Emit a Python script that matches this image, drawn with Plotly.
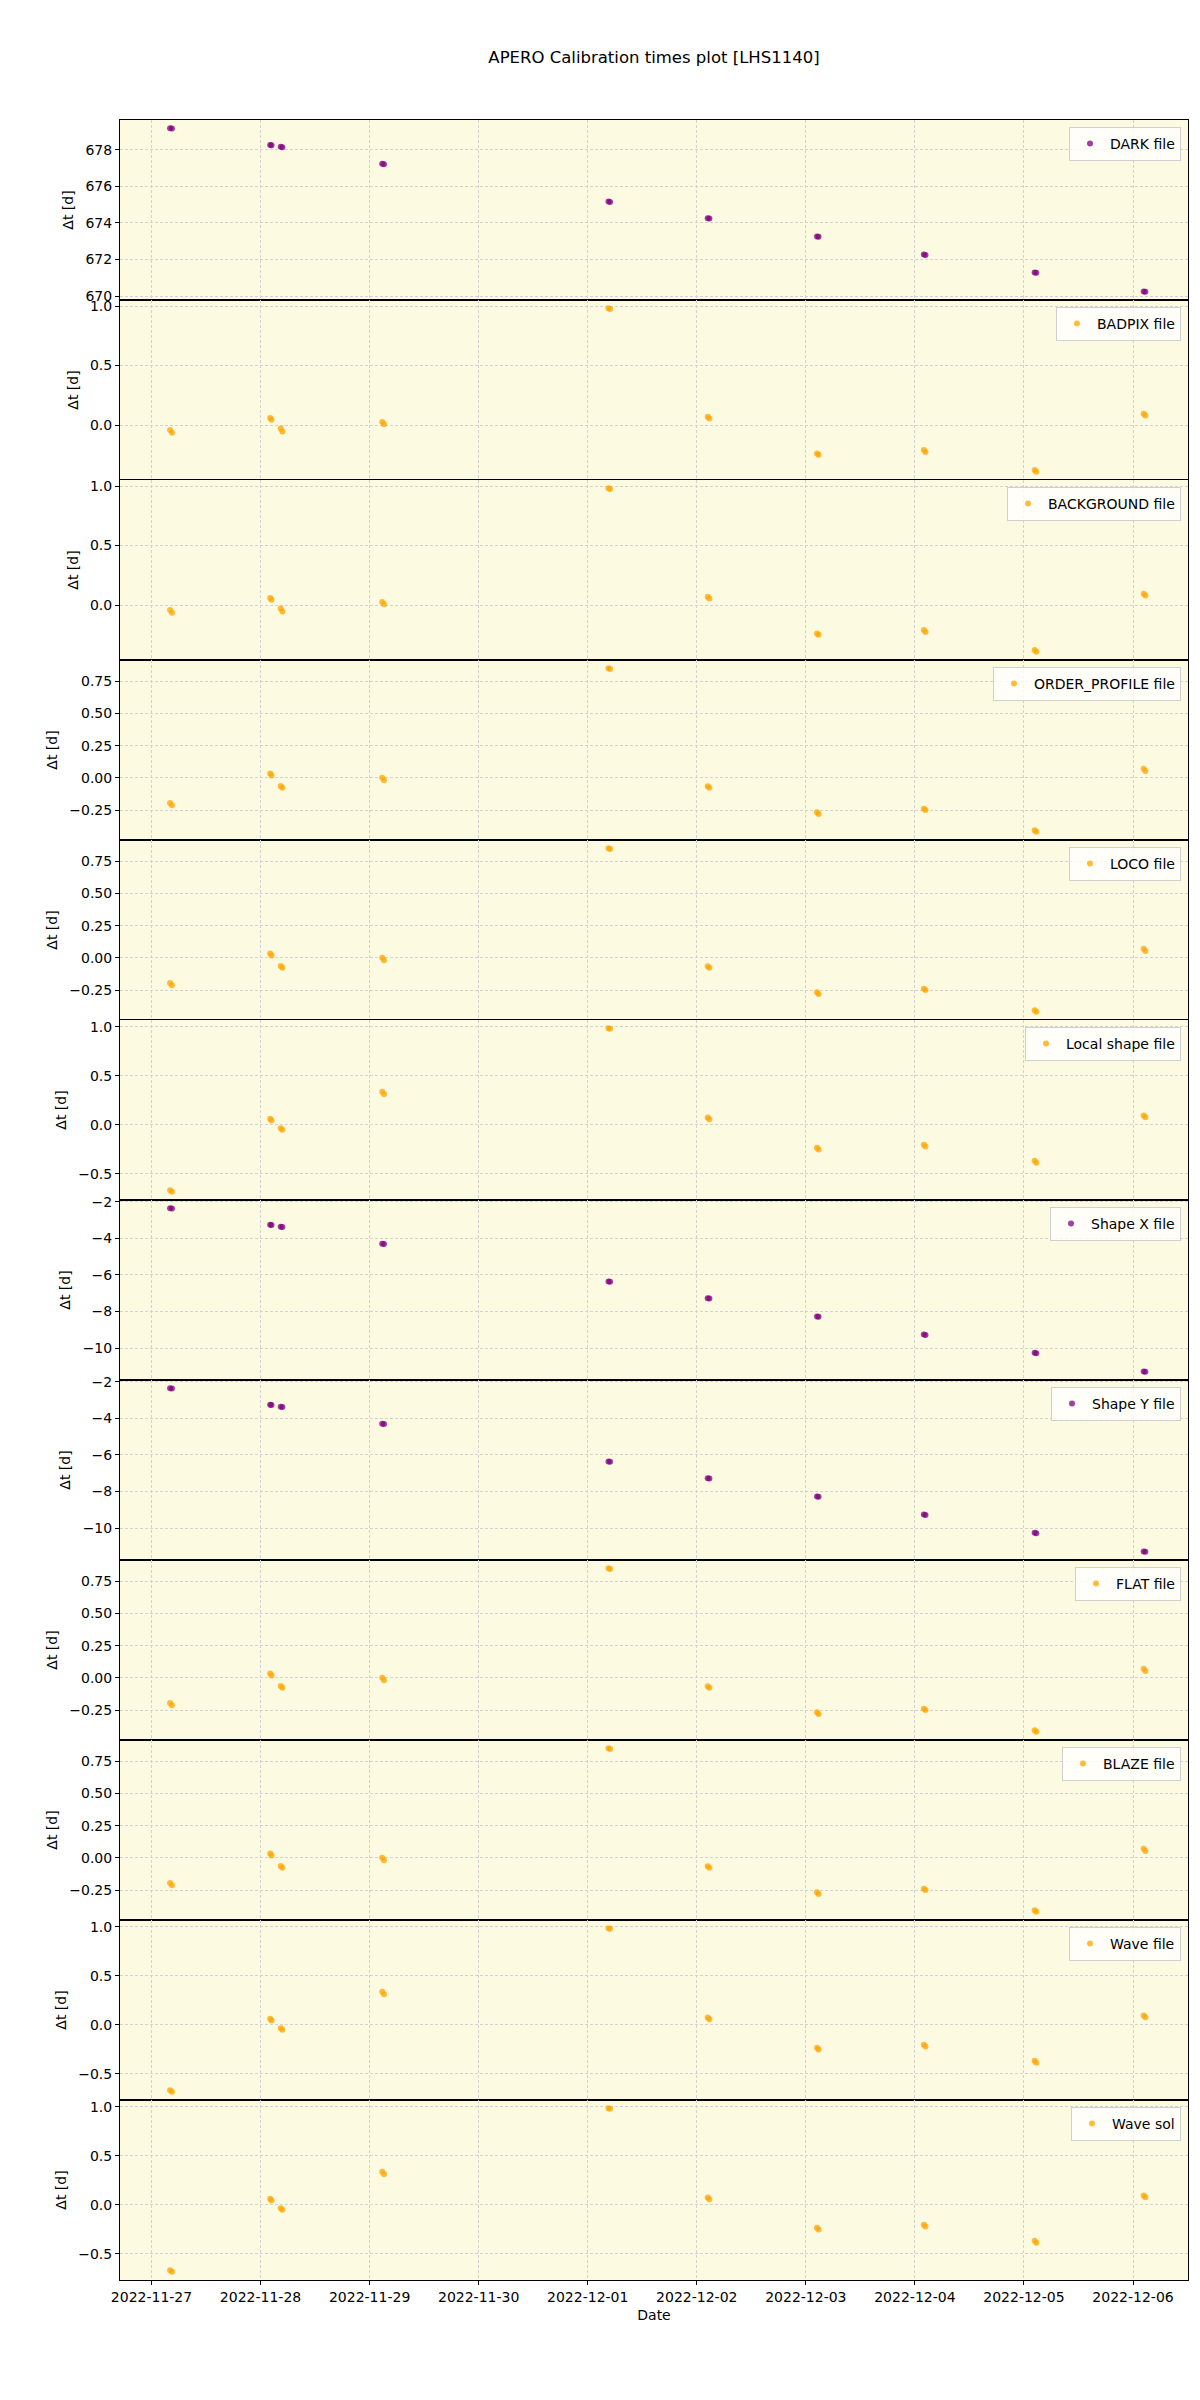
import plotly.graph_objects as go
from plotly.subplots import make_subplots

# Observation times (two exposures per night)
obs_dates = [
    "2022-11-27 04:05", "2022-11-27 04:30",
    "2022-11-28 02:07", "2022-11-28 02:24",
    "2022-11-28 04:26", "2022-11-28 04:48",
    "2022-11-29 02:46", "2022-11-29 03:10",
    "2022-12-01 04:34", "2022-12-01 04:55",
    "2022-12-02 02:24", "2022-12-02 02:46",
    "2022-12-03 02:27", "2022-12-03 02:48",
    "2022-12-04 01:58", "2022-12-04 02:20",
    "2022-12-05 02:21", "2022-12-05 02:43",
    "2022-12-06 02:21", "2022-12-06 02:43",
]

dark_dt = [679.19, 679.17, 678.27, 678.26, 678.17, 678.15, 677.24, 677.22, 675.17, 675.15,
           674.26, 674.24, 673.26, 673.24, 672.27, 672.25, 671.29, 671.27, 670.25, 670.23]
badpix_dt = [-0.042, -0.064, 0.059, 0.045, -0.030, -0.055, 0.025, 0.006, 0.982, 0.975,
             0.070, 0.055, -0.240, -0.250, -0.210, -0.227, -0.377, -0.393, 0.095, 0.080]
background_dt = list(badpix_dt)
order_profile_dt = [-0.194, -0.212, 0.033, 0.018, -0.062, -0.077, 0.0, -0.018, 0.850, 0.843,
                    -0.065, -0.077, -0.266, -0.279, -0.240, -0.248, -0.405, -0.418, 0.070, 0.054]
loco_dt = list(order_profile_dt)
local_shape_dt = [-0.667, -0.684, 0.061, 0.044, -0.034, -0.051, 0.337, 0.313, 0.986, 0.980,
                  0.074, 0.057, -0.235, -0.252, -0.204, -0.221, -0.367, -0.388, 0.095, 0.078]
shape_x_dt = [-2.35, -2.37, -3.26, -3.27, -3.36, -3.38, -4.29, -4.31, -6.36, -6.38,
              -7.27, -7.29, -8.27, -8.29, -9.26, -9.28, -10.26, -10.28, -11.28, -11.30]
shape_y_dt = list(shape_x_dt)
flat_dt = list(order_profile_dt)
blaze_dt = list(order_profile_dt)
wave_file_dt = list(local_shape_dt)
wave_sol_dt = list(local_shape_dt)

panel_labels = ["DARK file", "BADPIX file", "BACKGROUND file", "ORDER_PROFILE file", "LOCO file",
                "Local shape file", "Shape X file", "Shape Y file", "FLAT file", "BLAZE file",
                "Wave file", "Wave sol"]
panel_values = [dark_dt, badpix_dt, background_dt, order_profile_dt, loco_dt, local_shape_dt,
                shape_x_dt, shape_y_dt, flat_dt, blaze_dt, wave_file_dt, wave_sol_dt]
panel_colors = ["purple", "orange", "orange", "orange", "orange", "orange",
                "purple", "purple", "orange", "orange", "orange", "orange"]
panel_dticks = [2, 0.5, 0.5, 0.25, 0.25, 0.5, 2, 2, 0.25, 0.25, 0.5, 0.5]

x_tick_dates = ["2022-11-27", "2022-11-28", "2022-11-29", "2022-11-30", "2022-12-01",
                "2022-12-02", "2022-12-03", "2022-12-04", "2022-12-05", "2022-12-06"]
x_range = ["2022-11-26 17:04", "2022-12-06 12:06"]

n = len(panel_labels)
W, H = 1200, 2400
ML, MR, MT, MB = 120, 12, 120, 120
plot_h = H - MT - MB
panel_h = plot_h / n

fig = make_subplots(rows=n, cols=1, shared_xaxes=True, vertical_spacing=0)

font_family = "DejaVu Sans"
grid_color = "#d2d2d2"
bg = "#FCFAE1"

for i in range(n):
    leg = "legend" if i == 0 else f"legend{i+1}"
    fig.add_trace(go.Scatter(
        x=obs_dates, y=panel_values[i], mode="markers",
        marker=dict(color=panel_colors[i], size=6, opacity=0.75, line=dict(width=0)),
        name=panel_labels[i], legend=leg, showlegend=True,
    ), row=i + 1, col=1)

    vals = panel_values[i]
    lo, hi = min(vals), max(vals)
    pad = (hi - lo) * 0.05
    d = panel_dticks[i]
    fmt = "d" if d >= 1 else (".1f" if d == 0.5 else ".2f")
    fig.update_yaxes(
        row=i + 1, col=1,
        range=[lo - pad, hi + pad], dtick=d, tick0=0, tickformat=fmt,
        showgrid=True, gridcolor=grid_color, griddash="3px,2px", gridwidth=1,
        showline=True, mirror=True, linecolor="black", linewidth=1,
        ticks="outside", ticklen=4, tickcolor="black", zeroline=False,
        tickfont=dict(size=14, color="black", family=font_family),
        title=dict(text="Δt [d]", font=dict(size=14, color="black", family=font_family), standoff=8),
    )
    fig.update_xaxes(
        row=i + 1, col=1,
        type="date", range=x_range,
        tickvals=x_tick_dates, ticktext=x_tick_dates,
        showgrid=True, gridcolor=grid_color, griddash="3px,2px", gridwidth=1,
        showline=True, mirror=True, linecolor="black", linewidth=1,
        ticks="outside" if i == n - 1 else "", ticklen=4, tickcolor="black",
        showticklabels=(i == n - 1), zeroline=False,
        tickfont=dict(size=14, color="black", family=font_family),
    )
    top_px = MT + i * panel_h + 7
    legend_cfg = dict(
        x=(W - MR - ML - 7) / (W - ML - MR), xanchor="right",
        y=1 - (top_px - MT) / plot_h, yanchor="top",
        bgcolor="rgba(255,255,255,0.8)", bordercolor="#d0d0d0", borderwidth=1,
        font=dict(size=14, color="black", family=font_family),
        itemsizing="trace",
    )
    fig.update_layout(**{leg: legend_cfg})

fig.update_xaxes(row=n, col=1, title=dict(text="Date", font=dict(size=14, color="black", family=font_family), standoff=6))

fig.update_layout(
    width=W, height=H,
    margin=dict(l=ML, r=MR, t=MT, b=MB),
    paper_bgcolor="white", plot_bgcolor=bg,
    font=dict(family=font_family, color="black"),
    title=dict(text="APERO Calibration times plot [LHS1140]", x=0.5, xanchor="center",
               xref="paper", y=1 - 57 / H, yref="container", yanchor="middle",
               font=dict(size=16.5, color="black", family=font_family)),
)

fig.write_html("out.html")
